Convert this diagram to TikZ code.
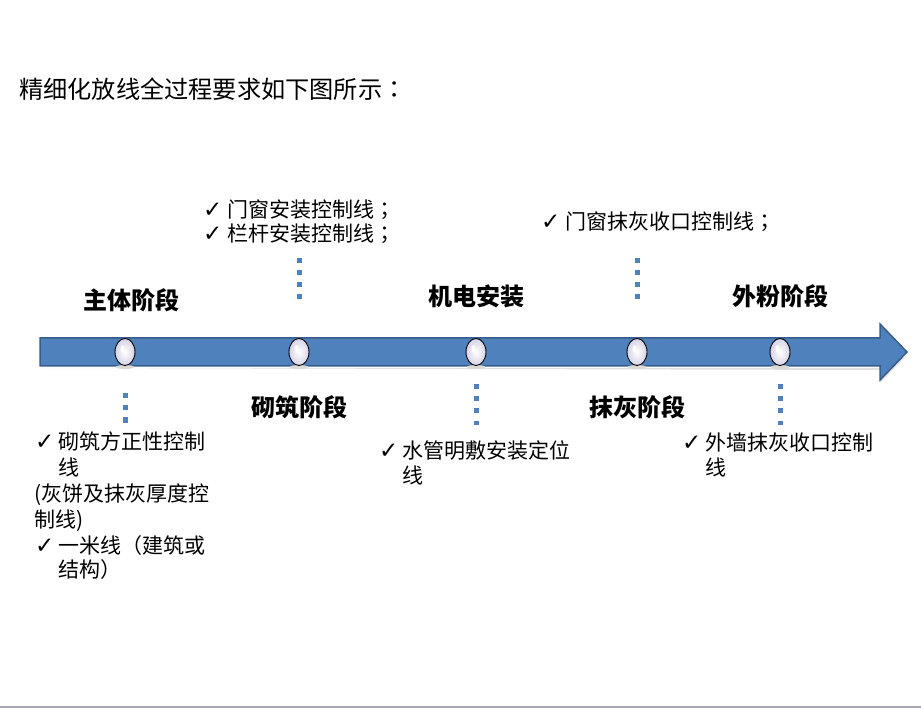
\documentclass[tikz,border=0pt]{standalone}
\usepackage{fontspec}
\setmainfont{Noto Sans CJK SC}
\newfontfamily\chkfont{DejaVu Sans}
\newfontfamily\punct{Noto Sans CJK TC}
\usetikzlibrary{shapes.geometric,shadings}
\definecolor{arrowblue}{HTML}{4F81BD}
\definecolor{arrowedge}{HTML}{385D8A}
\definecolor{lav}{HTML}{D6D2E6}
\definecolor{bottomgray}{HTML}{A6A8B4}
\tikzset{
  txt/.style={anchor=west,inner sep=0pt,text height=19pt,text depth=3pt,font=\fontsize{21pt}{26pt}\selectfont},
  stage/.style={inner sep=0pt,text height=21.5pt,text depth=3pt,font=\fontsize{24pt}{28pt}\selectfont\bfseries},
  title/.style={anchor=west,inner sep=0pt,text height=21.5pt,text depth=3pt,font=\fontsize{24.2pt}{28pt}\selectfont},
  chk/.style={anchor=west,inner sep=0pt,text height=16pt,text depth=0pt,font=\fontsize{23pt}{24pt}\selectfont\chkfont},
  dots/.style={draw=arrowblue,line width=5pt,dash pattern=on 5pt off 7pt},
  bead/.style={ellipse,minimum width=20pt,minimum height=27pt,inner sep=0pt,draw=black,line width=0.9pt,inner color=white,outer color=lav},
}
\begin{document}
\begin{tikzpicture}[x=1pt,y=-1pt]
\useasboundingbox (0,0) rectangle (921,708);
\fill[white] (0,0) rectangle (921,708);
\draw[bottomgray,line width=1.5pt] (0,707) -- (921,707);

% title
\node[title] (title) at (19,89) {精细化放线全过程要求如下图所示{\punct ：}};

% arrow shadow
\fill[black!12] (42,368) -- (880,368) -- (880,383) -- (906,356) -- (880,370) -- cycle;
% arrow
\draw[fill=arrowblue,draw=arrowedge,line width=1.5pt,line join=miter]
  (40,338) -- (880,338) -- (880,324) -- (907,352) -- (880,380) -- (880,366) -- (40,366) -- cycle;

% beads
\foreach \n/\x in {b1/125,b2/299,b3/476,b4/637,b5/780}{
  \fill[black!15] (\x,367) ellipse (9pt and 2pt);
  \node[bead] (\n) at (\x,352) {};
  \fill[white,opacity=0.9] (\x-2.5,349) ellipse (2pt and 4pt);
}

% stage labels
\node[stage] (s1) at (131,300) {主体阶段};
\node[stage] (s2) at (299,407) {砌筑阶段};
\node[stage] (s3) at (476,296) {机电安装};
\node[stage] (s4) at (637,407) {抹灰阶段};
\node[stage] (s5) at (780,296) {外粉阶段};

% dotted connectors
\coordinate (d2a) at (299,258.5); \coordinate (d2b) at (299,299.5);
\coordinate (d4a) at (637,258.5); \coordinate (d4b) at (637,299.5);
\coordinate (d1a) at (125,393.5); \coordinate (d1b) at (125,422.5);
\coordinate (d3a) at (476,384.5); \coordinate (d3b) at (476,424.5);
\coordinate (d5a) at (780,384.5); \coordinate (d5b) at (780,424.5);
\draw[dots] (d2a) -- (d2b);
\draw[dots] (d4a) -- (d4b);
\draw[dots] (d1a) -- (d1b);
\draw[dots] (d3a) -- (d3b);
\draw[dots] (d5a) -- (d5b);

% top middle list
\node[chk] (c21) at (203,210) {✓};
\node[txt] (t21) at (227,210) {门窗安装控制线{\punct ；}};
\node[chk] (c22) at (203,234) {✓};
\node[txt] (t22) at (227,234) {栏杆安装控制线{\punct ；}};

% top right list
\node[chk] (c41) at (541,222) {✓};
\node[txt] (t41) at (565,222) {门窗抹灰收口控制线{\punct ；}};

% left list
\node[chk] (c11) at (35,441) {✓};
\node[txt] (t11) at (58,441) {砌筑方正性控制};
\node[txt] (t12) at (58,467) {线};
\node[txt] (t13) at (34,493) {(灰饼及抹灰厚度控};
\node[txt] (t14) at (34,519) {制线)};
\node[chk] (c12) at (35,545) {✓};
\node[txt] (t15) at (58,545) {一米线{\punct （}建筑或};
\node[txt] (t16) at (58,569) {结构{\punct ）}};

% middle bottom list
\node[chk] (c31) at (379,450) {✓};
\node[txt] (t31) at (402,450) {水管明敷安装定位};
\node[txt] (t32) at (402,475) {线};

% right bottom list
\node[chk] (c51) at (682,442) {✓};
\node[txt] (t51) at (705,442) {外墙抹灰收口控制};
\node[txt] (t52) at (705,467) {线};
\end{tikzpicture}
\end{document}
